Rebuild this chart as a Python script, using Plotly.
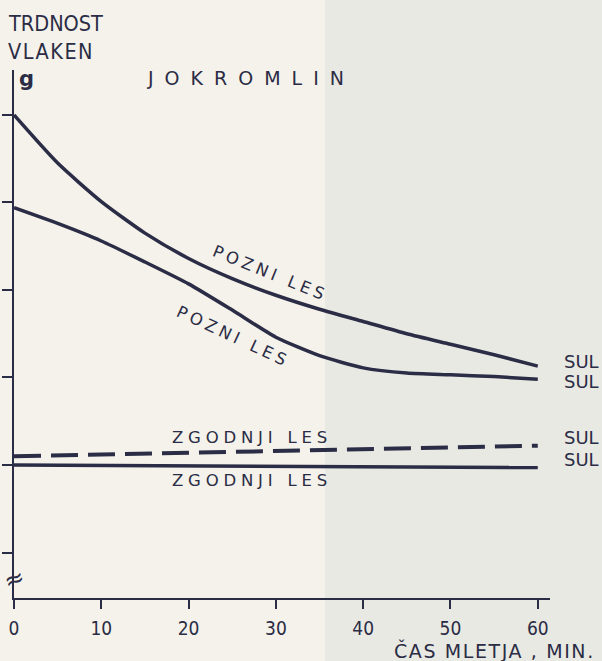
import plotly.graph_objects as go

# ---- data (minutes of milling vs fibre strength, y-ticks unlabeled) ----
t_late = [0, 5, 10, 15, 20, 25, 30, 35, 40, 45, 50, 55, 60]
late_upper = [6.00, 5.45, 5.01, 4.65, 4.36, 4.13, 3.94, 3.78, 3.64, 3.50, 3.38, 3.26, 3.13]
late_lower = [4.94, 4.76, 4.56, 4.32, 4.07, 3.77, 3.46, 3.25, 3.11, 3.05, 3.03, 3.01, 2.98]
t_early = [0, 30, 60]
early_dashed = [2.10, 2.16, 2.22]
early_solid = [2.00, 1.99, 1.97]

x_ticks = [0, 10, 20, 30, 40, 50, 60]
y_ticks = [1, 2, 3, 4, 5, 6]

INK = "#2b2c45"
REG = "DejaVu Sans, sans-serif"
COND = "DejaVu Sans Condensed, DejaVu Sans, sans-serif"
NARROW = "Liberation Sans Narrow, DejaVu Sans Condensed, sans-serif"

fig = go.Figure()
fig.add_trace(go.Scatter(x=t_late, y=late_upper, mode="lines",
                         line=dict(color=INK, width=3.5, shape="spline", smoothing=0.6)))
fig.add_trace(go.Scatter(x=t_late, y=late_lower, mode="lines",
                         line=dict(color=INK, width=3.5, shape="spline", smoothing=0.6)))
fig.add_trace(go.Scatter(x=t_early, y=early_dashed, mode="lines",
                         line=dict(color=INK, width=4, dash="27px,10px")))
fig.add_trace(go.Scatter(x=t_early, y=early_solid, mode="lines",
                         line=dict(color=INK, width=3.5)))


def sp(text, ls):
    return f'<span style="letter-spacing:{ls}px">{text}</span>'


ann = []
def txt(text, x, y, xref="x", yref="y", size=17, angle=0, xanchor="center", family=REG, ls=0):
    ann.append(dict(text=sp(text, ls) if ls else text, x=x, y=y, xref=xref, yref=yref,
                    showarrow=False, font=dict(size=size, color=INK, family=family),
                    textangle=angle, xanchor=xanchor, yanchor="middle"))

txt("POZNI LES", 29.4, 4.19, angle=22, size=16.5, ls=4)
txt("POZNI LES", 25.1, 3.47, angle=25, size=16.5, ls=4)
txt("ZGODNJI LES", 27.3, 2.31, size=16.5, ls=4.8)
txt("ZGODNJI LES", 27.3, 1.82, size=16.5, ls=4.8)
for yv in [3.18, 2.95, 2.31, 2.06]:
    txt("SUL", 1.022, yv, xref="paper", size=18, xanchor="left")

# header texts in paper coordinates (plot area spans px 14..550, 70..598)
def ptxt(text, px, py, size=19, xanchor="left", family=REG, ls=0):
    ann.append(dict(text=sp(text, ls) if ls else text, x=(px - 14) / 536, y=(598 - py) / 528,
                    xref="paper", yref="paper", showarrow=False,
                    font=dict(size=size, color=INK, family=family),
                    xanchor=xanchor, yanchor="middle"))

ptxt("TRDNOST", 6, 24, size=21.5, family=COND)
ptxt("VLAKEN", 6, 52, size=21.5, family=COND, ls=1.5)
ptxt("<b>g</b>", 17, 79, size=21)
ptxt("JOKROMLIN", 145, 78, size=19, ls=11)
ptxt("ČAS MLETJA , MIN.", 392, 650, size=19, ls=1.6)
# axis break mark
ann.append(dict(text="≈", x=0, y=0.70, xref="x", yref="y", showarrow=False,
                font=dict(size=24, color=INK, family=REG), textangle=-20))

fig.update_layout(
    width=602, height=661,
    margin=dict(l=14, r=52, t=70, b=63),
    paper_bgcolor="#e9e9e3",
    plot_bgcolor="rgba(0,0,0,0)",
    showlegend=False,
    annotations=ann,
    shapes=[dict(type="rect", xref="paper", yref="paper", x0=-0.05, x1=(325 - 14) / 536,
                 y0=-0.2, y1=1.2, fillcolor="#f4f2ea", line=dict(width=0), layer="below")],
    xaxis=dict(range=[0, 61.4], tickvals=x_ticks, ticks="outside", ticklen=9, tickwidth=2,
               tickcolor=INK, showline=True, linecolor=INK, linewidth=2, showgrid=False,
               zeroline=False, automargin=False, ticklabelstandoff=3,
               tickfont=dict(size=19, color=INK, family=NARROW)),
    yaxis=dict(range=[0.48, 6.514], tickvals=y_ticks, showticklabels=False, ticks="outside",
               ticklen=10, tickwidth=2, tickcolor=INK, showline=True, linecolor=INK,
               linewidth=2, showgrid=False, zeroline=False, automargin=False),
)

fig.write_html("out.html", config={"displayModeBar": False},
               post_script="document.body.style.margin='0';")
